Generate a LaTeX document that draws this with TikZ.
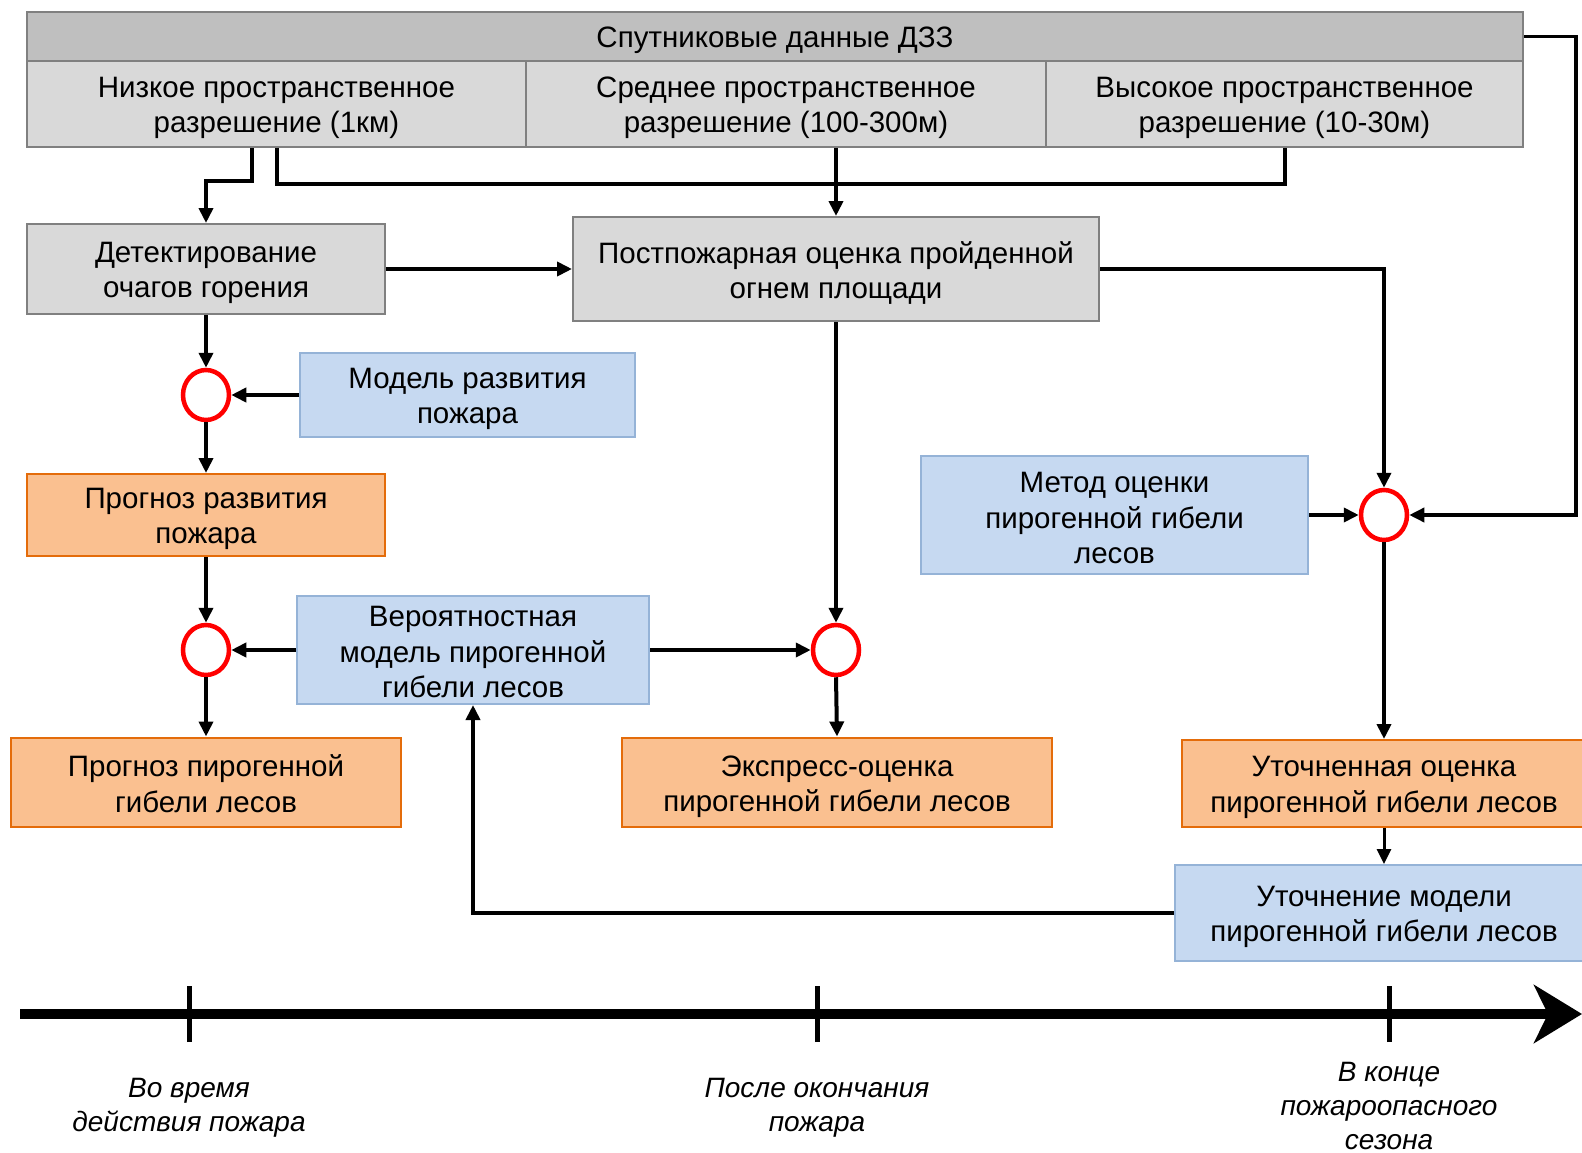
\documentclass[tikz,border=0pt]{standalone}
\usepackage{fontspec}
\setmainfont{Liberation Sans}
\usetikzlibrary{arrows.meta,shapes.geometric}
\definecolor{hdrfill}{HTML}{BFBFBF}
\definecolor{grayfill}{HTML}{D9D9D9}
\definecolor{grayline}{HTML}{808080}
\definecolor{bluefill}{HTML}{C6D9F1}
\definecolor{blueline}{HTML}{95B3D7}
\definecolor{orfill}{HTML}{FAC090}
\definecolor{orline}{HTML}{E46C0A}
\tikzset{
  box/.style={draw, line width=2pt, inner sep=0pt},
  txt/.style={align=center, inner sep=0pt, yshift=-4pt,
    font=\fontsize{29.5}{35.5}\selectfont},
  hdrbox/.style={draw, line width=2pt, align=center, inner sep=0pt,
    font=\fontsize{29.5}{35.5}\selectfont,
    execute at begin node={\rule{0pt}{28pt}}},
  graybox/.style={box, fill=grayfill, draw=grayline},
  bluebox/.style={box, fill=bluefill, draw=blueline},
  orbox/.style={box, fill=orfill, draw=orline},
  junc/.style={ellipse, draw=red, line width=4.5pt, fill=white,
    minimum width=46pt, minimum height=50pt, inner sep=0pt},
  conn/.style={line width=4pt, line join=miter},
  arr/.style={conn, -{Triangle[length=15pt,width=14pt]}},
  lbl/.style={align=center, font=\fontsize{28}{34}\selectfont\itshape}
}
\begin{document}
\begin{tikzpicture}[x=1pt,y=-1pt]
\useasboundingbox[fill=white] (0,0) rectangle (1582,1153);

% header
\node[hdrbox, fill=hdrfill, draw=grayline, minimum width=1496pt, minimum height=49pt] (head) at (775,36.5) {Спутниковые данные ДЗЗ};
\node[graybox, minimum width=499pt, minimum height=86pt,
  label={[txt]center:{Низкое пространственное\\разрешение (1км)}}] (sub1) at (276.5,104) {};
\node[graybox, minimum width=520pt, minimum height=86pt,
  label={[txt]center:{Среднее пространственное\\разрешение (100-300м)}}] (sub2) at (786,104) {};
\node[graybox, minimum width=477pt, minimum height=86pt,
  label={[txt]center:{Высокое пространственное\\разрешение (10-30м)}}] (sub3) at (1284.5,104) {};

% boxes
\node[graybox, minimum width=358pt, minimum height=90pt,
  label={[txt]center:{Детектирование\\очагов горения}}] (dets) at (206,269) {};
\node[graybox, minimum width=526pt, minimum height=104pt,
  label={[txt]center:{Постпожарная оценка пройденной\\огнем площади}}] (post) at (836,269) {};
\node[bluebox, minimum width=335pt, minimum height=84pt,
  label={[txt]center:{Модель развития\\пожара}}] (model) at (467.5,395) {};
\node[orbox, minimum width=358pt, minimum height=82pt,
  label={[txt]center:{Прогноз развития\\пожара}}] (progn1) at (206,515) {};
\node[bluebox, minimum width=352pt, minimum height=108pt,
  label={[txt, yshift=2pt]center:{Вероятностная\\модель пирогенной\\гибели лесов}}] (ver) at (473,650) {};
\node[orbox, minimum width=390pt, minimum height=89pt,
  label={[txt, yshift=2.5pt]center:{Прогноз пирогенной\\гибели лесов}}] (progn2) at (206,782) {};
\node[orbox, minimum width=430pt, minimum height=89pt,
  label={[txt, yshift=-1pt]center:{Экспресс-оценка\\пирогенной гибели лесов}}] (expr) at (837,782) {};
\node[bluebox, minimum width=387pt, minimum height=118pt,
  label={[txt, yshift=1pt]center:{Метод оценки\\пирогенной гибели\\лесов}}] (metod) at (1114.5,515) {};
\node[orbox, minimum width=404pt, minimum height=87pt,
  label={[txt]center:{Уточненная оценка\\пирогенной гибели лесов}}] (utoch) at (1384,783.5) {};
\node[bluebox, minimum width=418pt, minimum height=96pt,
  label={[txt]center:{Уточнение модели\\пирогенной гибели лесов}}] (refine) at (1384,913) {};

% junctions
\node[junc] (c1) at (206,395) {};
\node[junc] (c4) at (206,650) {};
\node[junc] (c2) at (836,650) {};
\node[junc] (c3) at (1384,515) {};

% connectors
\draw[arr] ([xshift=-25pt]sub1.south) -- ++(0,33) -| (dets.north);
\draw[conn] (sub1.south) -- ++(0,36) -| (sub3.south);
\draw[arr] (post.north |- sub2.south) -- (post.north);
\draw[arr] (dets.east) -- (post.west);
\draw[arr] (post.east) -| (c3.north);
\draw[arr] (post.south) -- (c2.north);
\draw[conn, line width=3.5pt, -{Triangle[length=15pt,width=14pt]}] (head.east) -- ++(52,0) |- (c3.east);
\draw[arr] (dets.south) -- (c1.north);
\draw[arr] (model.west) -- (c1.east);
\draw[arr] (c1.south) -- (progn1.north);
\draw[arr] (progn1.south) -- (c4.north);
\draw[arr] (ver.west) -- (c4.east);
\draw[arr] (ver.east) -- (c2.west);
\draw[arr] (c4.south) -- (progn2.north);
\draw[arr] (c2.south) -- (expr.north);
\draw[arr] (metod.east) -- (c3.west);
\draw[arr] (c3.south) -- (utoch.north);
\draw[arr, line width=3pt] (utoch.south) -- (refine.north);
\draw[arr] (refine.west) -| (ver.south);

% timeline
\coordinate (t0) at (20,1014);
\coordinate (t1) at (1582,1014);
\draw[line width=10pt, -{Stealth[length=48pt,width=58pt,inset=14pt]}] (t0) -- (t1);
\coordinate (k1) at (189,1014);
\coordinate (k2) at (817,1014);
\coordinate (k3) at (1389,1014);
\foreach \k in {k1,k2,k3}
  \draw[line width=5pt] ([yshift=-28pt]\k) -- ([yshift=28pt]\k);
\node[lbl] (l1) at (189,1108) {Во время\\действия пожара};
\node[lbl] (l2) at (817,1108) {После окончания\\пожара};
\node[lbl] (l3) at (1389,1106) {В конце\\пожароопасного\\сезона};
\end{tikzpicture}
\end{document}
